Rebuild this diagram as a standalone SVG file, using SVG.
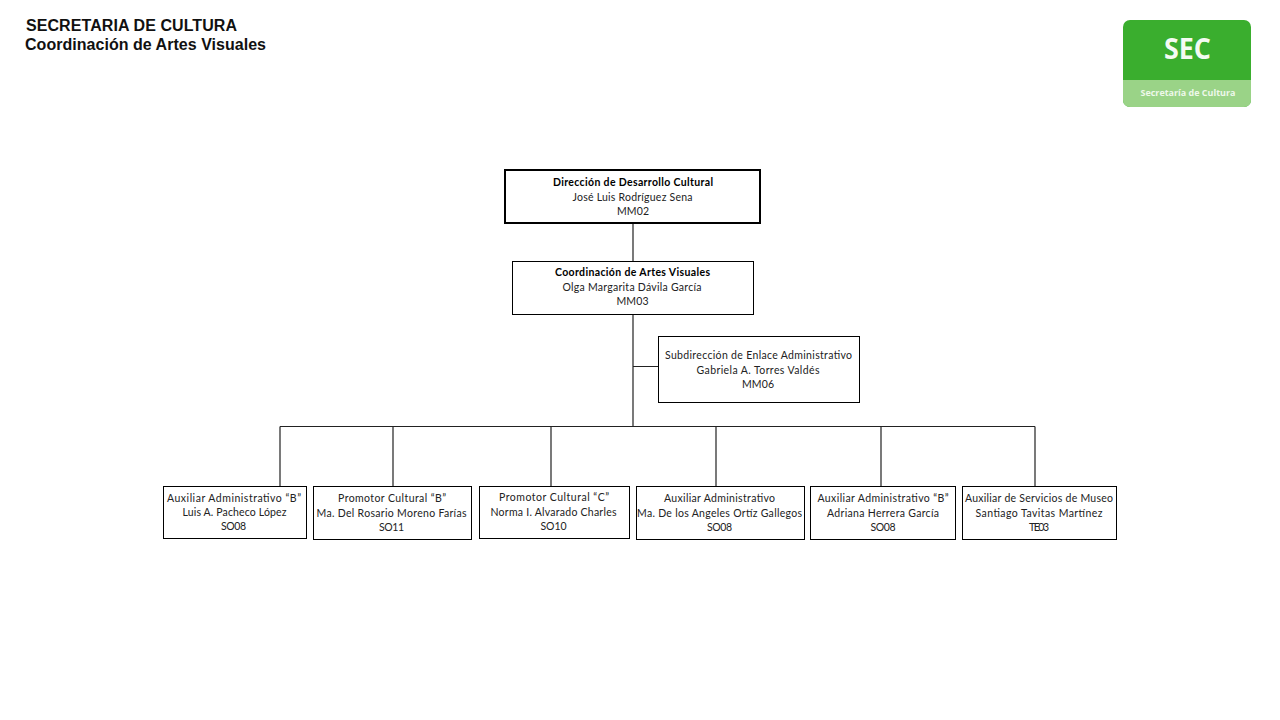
<svg xmlns="http://www.w3.org/2000/svg" width="1280" height="720" viewBox="0 0 1280 720">
<style>
.box{fill:#fff;stroke:#000;stroke-width:1}
.t{font-family:"Lato","Carlito","Open Sans",sans-serif;font-size:10.5px;fill:#222;text-anchor:middle}
.b{font-weight:700;fill:#000}
.h{font-family:"Liberation Sans",Arial,sans-serif;font-size:16px;font-weight:700;fill:#111}
.c{fill:none;stroke:#222;stroke-width:1.2}
</style>
<rect width="1280" height="720" fill="#fff"/>
<text class="h" x="26" y="31" textLength="211" lengthAdjust="spacing">SECRETARIA DE CULTURA</text>
<text class="h" x="25" y="49.500" textLength="241" lengthAdjust="spacing">Coordinación de Artes Visuales</text>
<g id="logo">
<rect x="1123" y="20" width="128" height="87" rx="7" fill="#3aae2e"/>
<path d="M1123 80H1251V100a7 7 0 0 1-7 7H1130a7 7 0 0 1-7-7Z" fill="#9ad387"/>
<text x="1187.500" y="59" font-family="'Open Sans',sans-serif" font-size="29" font-weight="700" fill="#f4fbf2" text-anchor="middle" textLength="47" lengthAdjust="spacingAndGlyphs">SEC</text>
<text x="1188" y="96" font-family="'Open Sans',sans-serif" font-size="8.500" font-weight="700" fill="#eef8ea" text-anchor="middle" textLength="95" lengthAdjust="spacingAndGlyphs">Secretaría de Cultura</text>
</g>
<g id="connectors">
<path class="c" d="M633 223V261M633 315V426.500M633 366.500H658M280 426.500H1035M280 426.500V486M393 426.500V486M551 426.500V486M716 426.500V486M881 426.500V486M1035 426.500V486"/>
</g>
<g id="n1"><rect x="505" y="170" width="255" height="53" fill="#fff" stroke="#000" stroke-width="2"/>
<text class="t b" x="633" y="186" textLength="160">Dirección  de Desarrollo Cultural</text>
<text class="t" x="632.500" y="201" textLength="120">José Luis Rodríguez Sena</text>
<text class="t" x="633" y="215" textLength="32">MM02</text></g>
<g id="n2"><rect class="box" x="512.500" y="261.500" width="241" height="53"/>
<text class="t b" x="632.500" y="276" textLength="155">Coordinación  de Artes Visuales</text>
<text class="t" x="632" y="291" textLength="139">Olga Margarita Dávila García</text>
<text class="t" x="632.500" y="305" textLength="32">MM03</text></g>
<g id="n3"><rect class="box" x="658.500" y="336.500" width="201" height="66"/>
<text class="t" x="758.500" y="359" textLength="187">Subdirección de Enlace Administrativo</text>
<text class="t" x="758" y="374" textLength="123">Gabriela A. Torres Valdés</text>
<text class="t" x="758" y="388" textLength="32">MM06</text></g>
<g id="n4"><rect class="box" x="163.500" y="486.500" width="143" height="52"/>
<text class="t" x="234" y="502" textLength="134">Auxiliar Administrativo  “B”</text>
<text class="t" x="234.500" y="516" textLength="104">Luis A. Pacheco López</text>
<text class="t" x="233.500" y="530" textLength="25">SO08</text></g>
<g id="n5"><rect class="box" x="313.500" y="486.500" width="158" height="53"/>
<text class="t" x="392" y="502" textLength="108">Promotor Cultural “B”</text>
<text class="t" x="391.500" y="517" textLength="150">Ma. Del Rosario Moreno Farías</text>
<text class="t" x="391.500" y="531" textLength="25">SO11</text></g>
<g id="n6"><rect class="box" x="479.500" y="486.500" width="150" height="52"/>
<text class="t" x="554" y="501" textLength="110">Promotor Cultural  “C”</text>
<text class="t" x="553.500" y="516" textLength="126">Norma I. Alvarado Charles</text>
<text class="t" x="553.500" y="530" textLength="26">SO10</text></g>
<g id="n7"><rect class="box" x="636.500" y="486.500" width="168" height="53"/>
<text class="t" x="719.500" y="502" textLength="111">Auxiliar Administrativo</text>
<text class="t" x="719.500" y="517" textLength="165">Ma. De los Angeles Ortíz Gallegos</text>
<text class="t" x="719.500" y="531" textLength="25">SO08</text></g>
<g id="n8"><rect class="box" x="810.500" y="486.500" width="145" height="53"/>
<text class="t" x="883" y="502" textLength="131">Auxiliar Administrativo “B”</text>
<text class="t" x="883" y="517" textLength="112">Adriana Herrera García</text>
<text class="t" x="883" y="531" textLength="25">SO08</text></g>
<g id="n9"><rect class="box" x="962.500" y="486.500" width="154" height="53"/>
<text class="t" x="1039" y="502" textLength="148">Auxiliar de Servicios de Museo</text>
<text class="t" x="1039" y="517" textLength="127">Santiago Tavitas Martínez</text>
<text class="t" x="1039" y="531" textLength="20">TE03</text></g>
</svg>
